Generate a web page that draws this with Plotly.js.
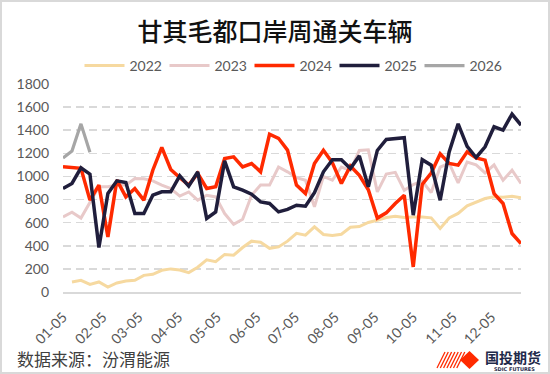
<!DOCTYPE html>
<html>
<head>
<meta charset="utf-8">
<script src="https://cdn.plot.ly/plotly-3.0.1.min.js"></script>
<style>
  html, body { margin: 0; padding: 0; background: #ffffff; }
  #wrap { position: relative; width: 550px; height: 374px; overflow: hidden; }
  #chart { position: absolute; left: 0; top: 0; width: 550px; height: 374px; }
  #frame { position: absolute; left: 0; top: 0; width: 550px; height: 374px; box-sizing: border-box; border: 2px solid #d9d9d9; pointer-events: none; }
</style>
</head>
<body>
<div id="wrap"><div id="chart"></div><div id="frame"></div></div>
<script>
// Week labels (MM-DD), shared by all years
const weeks = ["01-05","01-12","01-19","01-26","02-02","02-09","02-16","02-23",
  "03-02","03-09","03-16","03-23","03-30","04-06","04-13","04-20","04-27",
  "05-04","05-11","05-18","05-25","06-01","06-08","06-15","06-22","06-29",
  "07-06","07-13","07-20","07-27","08-03","08-10","08-17","08-24","08-31",
  "09-07","09-14","09-21","09-28","10-05","10-12","10-19","10-26",
  "11-02","11-09","11-16","11-23","11-30","12-07","12-14","12-21","12-28"];

const y2022 = [null,87,101,66,87,43,78,95,101,144,153,188,200,190,168,215,278,262,325,318,
  385,440,430,378,390,440,508,492,564,498,490,500,560,566,602,621,645,656,645,650,
  650,642,550,640,680,745,780,809,825,820,828,815];
const y2023 = [650,690,640,775,910,910,925,925,982,980,962,925,895,830,866,795,837,823,679,585,
  630,837,925,925,1082,1040,990,967,737,1000,967,1082,1053,1225,1230,866,1020,1035,880,930,
  960,860,1080,1115,945,1125,1100,1030,1100,968,1054,939];
const y2024 = [1083,1078,1070,795,925,477,968,823,895,795,1054,1251,1060,990,925,1026,896,910,1156,1170,
  1083,1112,1040,1365,1330,1228,925,852,1112,1226,1118,939,1090,1010,885,640,685,766,838,217,
  930,1030,1195,1112,1098,1213,1160,1141,852,766,506,419];
const y2025 = [896,939,1075,1020,385,852,962,948,679,679,838,867,867,1005,916,1040,636,693,1135,910,
  881,846,780,766,693,715,751,742,860,1040,1145,1145,1069,1178,910,1225,1320,1329,1335,665,
  1145,1097,794,1212,1455,1260,1164,1257,1430,1401,1540,1444];
const y2026 = [1160,1220,1455,1210];

const seriesNames = ["2022","2023","2024","2025","2026"];
const seriesData = [y2022, y2023, y2024, y2025, y2026];
const seriesColors = ["#F6D9A0","#E8C9C9","#FF2A00","#201E3C","#A6A6A6"];
const seriesWidths = [3, 3, 3.5, 3.5, 3.2];

const yTicks = [0,200,400,600,800,1000,1200,1400,1600,1800];

const baseYear = "2022-";
const xDates = weeks.map(w => baseYear + w);

const traces = seriesData.map((ys, k) => ({
  type: "scatter",
  mode: "lines",
  name: seriesNames[k],
  x: xDates.slice(0, ys.length),
  y: ys,
  connectgaps: false,
  line: { color: seriesColors[k], width: seriesWidths[k], shape: "linear" },
  hoverinfo: "skip"
}));

// page px -> paper helpers for decoration
const L = 63, R = 521, T = 84, B = 292;
const px = v => (v - L) / (R - L);
const py = v => (B - v) / (B - T);

const shapes = [];
// logo hatch stripes
for (let k = 0; k < 7; k++) {
  shapes.push({ type: "line", xref: "paper", yref: "paper",
    x0: px(437 + 3.3 * k), y0: py(368), x1: px(445 + 3.3 * k), y1: py(352),
    line: { color: "#FF2A00", width: 1.3 } });
}
// logo solid diamond
shapes.push({ type: "path", xref: "paper", yref: "paper",
  path: `M ${px(460)} ${py(360)} L ${px(469.5)} ${py(351)} L ${px(479)} ${py(360)} L ${px(469.5)} ${py(369)} Z`,
  fillcolor: "#FF2A00", line: { width: 0 } });

const layout = {
  width: 550, height: 374,
  margin: { l: L, r: 550 - R, t: T, b: 374 - B, pad: 0 },
  paper_bgcolor: "#ffffff", plot_bgcolor: "#ffffff",
  showlegend: true,
  font: { family: "Lato, 'Noto Sans CJK SC', sans-serif", color: "#595959", size: 14 },
  title: {
    text: "甘其毛都口岸周通关车辆",
    x: 0.5, xanchor: "center", xref: "container",
    y: 1 - 32 / 374, yanchor: "middle", yref: "container",
    font: { family: "'Noto Sans CJK SC', sans-serif", size: 25, color: "#111111", weight: 500 }
  },
  legend: {
    orientation: "h", x: 0.5, xanchor: "center", y: py(66), yanchor: "middle",
    font: { family: "Lato, sans-serif", size: 14, color: "#595959" },
    itemwidth: 40, entrywidth: 30, entrywidthmode: "pixels",
    bgcolor: "rgba(0,0,0,0)", traceorder: "normal"
  },
  xaxis: {
    type: "date",
    range: [xDates[0], xDates[xDates.length - 1]],
    tick0: xDates[0], dtick: "M1", tickformat: "%m-%d",
    tickangle: -45,
    tickfont: { family: "Lato, sans-serif", size: 14, color: "#595959" },
    ticklabelstandoff: 10,
    showgrid: false, showline: true, linecolor: "#D9D9D9", linewidth: 1.5,
    ticks: "", zeroline: false, fixedrange: true
  },
  yaxis: {
    range: [0, 1800],
    tickvals: yTicks,
    ticktext: yTicks.map(String),
    tickfont: { family: "Lato, sans-serif", size: 14, color: "#595959" },
    ticklabelstandoff: 13,
    showgrid: true, gridcolor: "#D9D9D9", gridwidth: 1.5, griddash: "8px,5px",
    zeroline: true, zerolinecolor: "#D9D9D9", zerolinewidth: 1.5,
    showline: false, ticks: "", fixedrange: true
  },
  shapes: shapes,
  annotations: [
    { text: "数据来源：汾渭能源", xref: "paper", yref: "paper",
      x: px(15), y: py(358), xanchor: "left", yanchor: "middle", showarrow: false,
      font: { family: "'Noto Sans CJK SC', sans-serif", size: 17, color: "#404040" } },
    { text: "<b>国投期货</b>", xref: "paper", yref: "paper",
      x: px(513), y: py(357), xanchor: "center", yanchor: "middle", showarrow: false,
      font: { family: "'Noto Sans CJK SC', sans-serif", size: 14, color: "#1F2A4A" } },
    { text: "<b>SDIC FUTURES</b>", xref: "paper", yref: "paper",
      x: px(514), y: py(369), xanchor: "center", yanchor: "middle", showarrow: false,
      font: { family: "'DejaVu Sans', sans-serif", size: 5, color: "#1F2A4A" } }
  ],
  hovermode: false
};

Plotly.newPlot("chart", traces, layout, { staticPlot: true, displayModeBar: false });
</script>
</body>
</html>
